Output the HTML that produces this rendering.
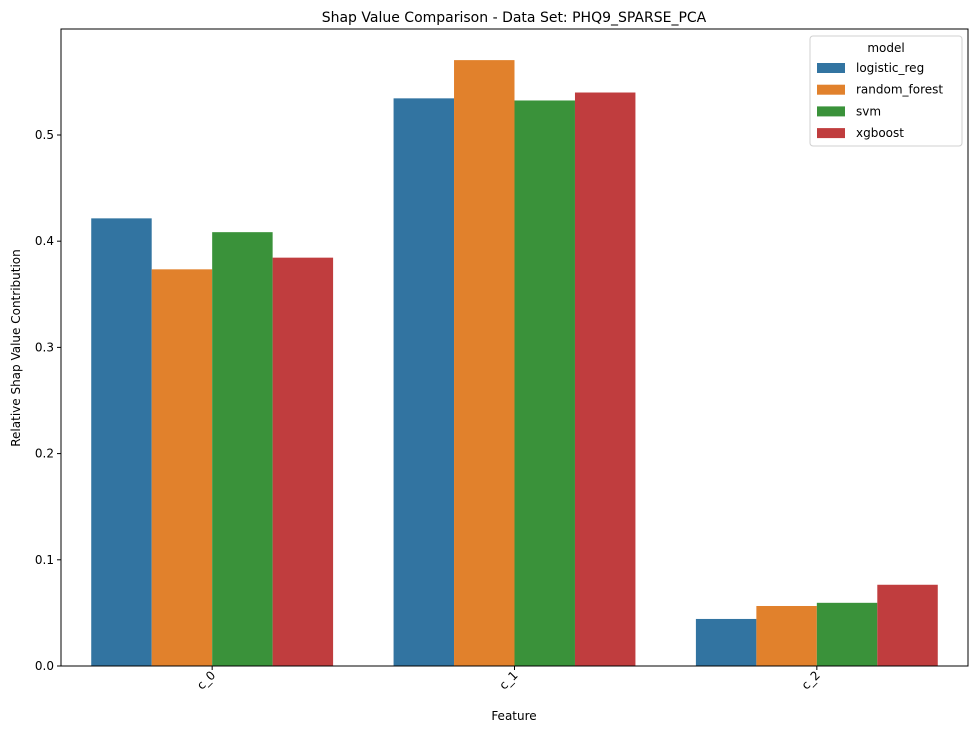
<!DOCTYPE html>
<html><head><meta charset="utf-8"><style>
body{margin:0;background:#fff;font-family:"Liberation Sans","DejaVu Sans",sans-serif;}
</style></head><body>
<svg id="chart" width="978" height="732" xmlns="http://www.w3.org/2000/svg" font-family="'DejaVu Sans','Liberation Sans',sans-serif">
<text x="514" y="22" font-size="14" text-anchor="middle">Shap Value Comparison - Data Set: PHQ9_SPARSE_PCA</text>
<g id="plot"></g>
<rect x="61" y="29" width="907" height="637" fill="none" stroke="#000" stroke-width="1"/>
<text x="514" y="720" font-size="12" text-anchor="middle">Feature</text>
<text transform="translate(20,348) rotate(-90)" font-size="12" text-anchor="middle">Relative Shap Value Contribution</text>
<g id="legend">
<rect x="810" y="36" width="152" height="110" rx="3" fill="#fff" stroke="#ccc" opacity="0.9"/>
<text x="886" y="52" font-size="12" text-anchor="middle">model</text>
</g>
</svg>
<script>
const categories=["c_0","c_1","c_2"];
const models=["logistic_reg","random_forest","svm","xgboost"];
const colors=["#3274a1","#e1812c","#3a923a","#c03d3e"];
const logisticReg=[0.4215,0.5345,0.0443];
const randomForest=[0.3735,0.5705,0.0565];
const svmVals=[0.4085,0.5325,0.0595];
const xgboostVals=[0.3845,0.5400,0.0765];
const yTicks=[0.0,0.1,0.2,0.3,0.4,0.5];
const series=[logisticReg,randomForest,svmVals,xgboostVals];
const L=61,R=968,T=29,B=666,ymax=0.5998;
const ns="http://www.w3.org/2000/svg";
const y=v=>B-(v/ymax)*(B-T);
const cw=(R-L)/categories.length;
const x=i=>L+cw*(i+0.5);
const plot=document.getElementById('plot');
function mk(t,a,p){const e=document.createElementNS(ns,t);for(const k in a)e.setAttribute(k,a[k]);(p||plot).appendChild(e);return e;}
const gw=cw*0.8,bw=gw/models.length;
series.forEach((s,m)=>s.forEach((v,i)=>{
 const r=mk('rect',{x:x(i)-gw/2+m*bw,y:y(v),width:bw,height:B-y(v),fill:colors[m]});
 
 
}));
yTicks.forEach(t=>{
 const l=mk('line',{x1:L-4,x2:L,y1:y(t),y2:y(t),stroke:'#000'});
 
 
 const tx=mk('text',{x:L-7,y:y(t)+4,'font-size':12,'text-anchor':'end'});
 tx.textContent=t.toFixed(1);
 
 
});
categories.forEach((c,i)=>{
 const l=mk('line',{x1:x(i),x2:x(i),y1:B,y2:B+4,stroke:'#000'});
 
 
 const tx=mk('text',{transform:`translate(${x(i)+4},${B+10}) rotate(-45)`,'font-size':12,'text-anchor':'end'});
 tx.textContent=c;
 
 
});
const lg=document.getElementById('legend');
models.forEach((m,k)=>{
 const yy=68+k*21.7;
 const r=mk('rect',{x:817,y:yy-5,width:28,height:10,fill:colors[k]},lg);
 
 
 const t=mk('text',{x:856,y:yy+4,'font-size':12},lg);
 t.textContent=m;
 
 
});
</script>
</body></html>
